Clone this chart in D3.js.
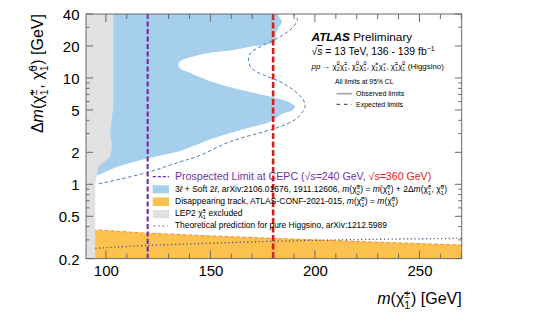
<!DOCTYPE html>
<html><head><meta charset="utf-8">
<script src="https://cdn.jsdelivr.net/npm/d3@7"></script>
<style>
body{margin:0;background:#fff}
svg{display:block}
text{font-family:"Liberation Sans",Arial,Helvetica,sans-serif}
</style>
</head><body>
<svg id="c" width="555" height="312"></svg>
<script>
// ---------------- data ----------------
const xTicks = [100, 150, 200, 250];
const yTicks = [0.2, 0.5, 1, 2, 5, 10, 20, 40];
const cepcLimits = [120, 180];           // prospected CEPC limits [GeV]
// 3l + soft 2l observed exclusion boundary [m(chi1+-), dm]
const softLeptonRegion = [
  [92,60],[180.5,60],[182.6,38],[184.2,33.9],[182.5,29.5],[181.3,26],[181.0,22.8],[179.5,21.3],
  [169.0,19.7],[160.9,18.3],[148.3,17.1],[138.7,15.3],[135.5,14.4],[134.7,13.3],[135.5,12.3],
  [138.7,11.5],[148.3,9.6],[160.9,8.05],[175.2,6.92],[184.9,6.21],[188.6,5.8],[190.5,5.37],
  [189.1,4.95],[184.9,4.65],[178.6,3.88],[167.4,3.36],[151.5,2.71],[135.5,2.06],[120.2,1.76],
  [105,1.45],[95.7,1.22],[92,1.22]
];
// expected limit (dashed)
const expectedLimit = [
  [188.6,46],[189.6,40],[191.6,36.4],[189.7,30.4],[183.4,24.5],[175.4,20.4],[169.0,17.1],[168.2,14.8],
  [169.8,12.3],[175.4,10.7],[183.4,9.23],[189.7,7.71],[194.5,6.21],[195.3,5.37],[194.5,4.95],
  [191.4,4.18],[183.4,3.48],[175.4,3.12],[159.5,2.52],[143.5,1.82],[135.5,1.63],[119.6,1.29],[95.7,1.0]
];
// disappearing track exclusion (upper edge)
const disTrackEdge = [[85,0.375],[95,0.372],[120,0.347],[150,0.327],[180,0.31],[220,0.29],[270,0.268],[276,0.266]];
// LEP2 excluded region boundary
const lep2Edge = [[103.6,60],[103.6,5.2],[102.9,4.32],[102.4,3.5],[102.1,3.02],[102.9,2.43],[102.6,2.1],[102.1,1.82],[98,1.55],[96.5,1.46],[95.7,1.22],[94.9,1.0],[94.9,0.15]];
// theoretical prediction for pure Higgsino
const theoryLine = [[95,0.25],[120,0.266],[150,0.279],[180,0.291],[220,0.302],[270,0.31]];

// ---------------- layout ----------------
const svg = d3.select("#c");
const X0 = 86, X1 = 461.7, Y0 = 14.0, Y1 = 258.6;
const x = d3.scaleLinear().domain([90.5, 270.2]).range([X0, X1]);
const y = d3.scaleLog().domain([0.2, 40]).range([Y1, Y0]);

const C = {blue:"#a5cfec", grey:"#e1e1e1", orange:"#fdc14f", orangeEdge:"#ef9a35",
           exp:"#4d7db3", theory:"#4b5677", purple:"#7332a8", red:"#dc1a1a", frame:"#6a6a6a"};

svg.append("defs").append("clipPath").attr("id","pc")
  .append("rect").attr("x",X0).attr("y",Y0).attr("width",X1-X0).attr("height",Y1-Y0);
const plot = svg.append("g").attr("clip-path","url(#pc)");

const lineLin = d3.line().x(d=>x(d[0])).y(d=>y(d[1]));
const lineSm = d3.line().x(d=>x(d[0])).y(d=>y(d[1])).curve(d3.curveCatmullRom.alpha(0.5));

// blue region
plot.append("path").attr("d", d3.line().x(d=>x(d[0])).y(d=>y(d[1])).curve(d3.curveCatmullRomClosed.alpha(0.5))(softLeptonRegion))
  .attr("fill", C.blue);
// orange region
const orangePoly = disTrackEdge.concat([[276,0.15],[85,0.15]]);
plot.append("path").attr("d", lineLin(orangePoly)+"Z").attr("fill", C.orange);
plot.append("path").attr("d", lineLin(disTrackEdge)).attr("fill","none")
  .attr("stroke", C.orangeEdge).attr("stroke-width",1.1).attr("stroke-dasharray","4,2");
// grey LEP2
const greyPoly = [[80,60]].concat(lep2Edge).concat([[80,0.15]]);
plot.append("path").attr("d", lineLin(greyPoly)+"Z").attr("fill", C.grey);
// expected dashed
plot.append("path").attr("d", lineSm(expectedLimit)).attr("fill","none")
  .attr("stroke", C.exp).attr("stroke-width",1).attr("stroke-dasharray","3.5,2.5");
// theory dotted
plot.append("path").attr("d", lineSm(theoryLine)).attr("fill","none")
  .attr("stroke", C.theory).attr("stroke-width",1.3).attr("stroke-dasharray","1.2,2.6");
// CEPC lines
plot.selectAll("line.cepc").data(cepcLimits).enter().append("line")
  .attr("x1",d=>x(d)).attr("x2",d=>x(d)).attr("y1",Y0).attr("y2",Y1)
  .attr("stroke",(d,i)=>i?C.red:C.purple).attr("stroke-width",(d,i)=>i?2.6:2.2)
  .attr("stroke-dasharray",(d,i)=>i?"6,2.5":"5,2.5");

// ---------------- axes ----------------
const ax = svg.append("g").attr("stroke", C.frame).attr("fill","none");
ax.append("rect").attr("x",X0).attr("y",Y0).attr("width",X1-X0).attr("height",Y1-Y0).attr("stroke-width",1);
const xMinor = d3.range(100, 271, 10);
xMinor.forEach(v=>{
  const L = xTicks.includes(v) ? 8 : 5;
  ax.append("line").attr("x1",x(v)).attr("x2",x(v)).attr("y1",Y1).attr("y2",Y1-L);
  ax.append("line").attr("x1",x(v)).attr("x2",x(v)).attr("y1",Y0).attr("y2",Y0+L);
});
const yMinor = [];
[0.1,1,10].forEach(dec=>{ for(let k=1;k<=9;k++){ const v=+(k*dec).toPrecision(3); if(v>=0.2&&v<=40) yMinor.push(v);} });
yMinor.forEach(v=>{
  const L = yTicks.includes(v) ? 7 : 3.5;
  ax.append("line").attr("x1",X0).attr("x2",X0+L).attr("y1",y(v)).attr("y2",y(v));
  ax.append("line").attr("x1",X1).attr("x2",X1-L).attr("y1",y(v)).attr("y2",y(v));
});
// tick labels via d3 axes (lines hidden)
const gx = svg.append("g").attr("transform",`translate(0,${Y1})`)
  .call(d3.axisBottom(x).tickValues(xTicks).tickSize(0).tickPadding(0).tickFormat(d3.format("d")));
gx.select(".domain").remove();
gx.attr("font-size",15).attr("font-family","Liberation Sans, Arial, sans-serif");
gx.selectAll("text").attr("font-size",15).attr("fill","#000").attr("dy",null).attr("y",17);
const gy = svg.append("g").attr("transform",`translate(${X0},0)`)
  .call(d3.axisLeft(y).tickValues(yTicks).tickSize(0).tickPadding(6.5).tickFormat(d=>String(d)));
gy.select(".domain").remove();
gy.attr("font-size",15).attr("font-family","Liberation Sans, Arial, sans-serif");
gy.selectAll("text").attr("font-size",15).attr("fill","#000").attr("dy","0.36em");

// ---------------- rich text helper ----------------
function rich(g, px, py, size, parts, opts={}) {
  const t = g.append("text").attr("x",px).attr("y",py).attr("font-size",size).attr("fill",opts.fill||"#000");
  if (opts.anchor) t.attr("text-anchor",opts.anchor);
  if (opts.transform) t.attr("transform",opts.transform);
  let cur = 0, pend = 0;
  const small = size*0.66;
  function span(txt, fs, off, dx){
    const s = t.append("tspan").text(txt).attr("font-size",fs).attr("dy",off-cur);
    const d = (dx||0)+pend; pend = 0;
    if (d) s.attr("dx",d);
    cur = off; return s;
  }
  parts.forEach(p=>{
    if (typeof p === "string") span(p,size,0);
    else if (p.chi) {
      span("χ\u0303",size,0);
      const a = span(p.chi[0],small,-size*0.40);
      const la = a.node().getComputedTextLength();
      const b = span(p.chi[1],small,size*0.30,-la);
      const lb = b.node().getComputedTextLength();
      pend = Math.max(0,la-lb) + size*0.05;
    }
    else if (p.it) span(p.it,size,0).attr("font-style","italic");
    else if (p.bi) span(p.bi,size,0).attr("font-style","italic").attr("font-weight","bold");
    else if (p.ol) span(p.ol,size,0).attr("text-decoration","overline").attr("font-style","italic");
    else if (p.sup) span(p.sup,small,-size*0.42);
    else if (p.c) span(p.t,size,0).attr("fill",p.c);
  });
  return t;
}

// axis titles
rich(svg, X1, 304, 16, [{it:"m"},"(",{chi:["±","1"]},") [GeV]"], {anchor:"end"});
rich(svg, 0, 0, 16, ["Δ",{it:"m"},"(",{chi:["±","1"]},", ",{chi:["0","1"]},") [GeV]"],
     {anchor:"end", transform:`translate(43,${Y0}) rotate(-90)`});

// ATLAS labels
rich(svg, 311.5, 40.5, 11.8, [{bi:"ATLAS"}," Preliminary"]);
rich(svg, 311.5, 55, 10.4, ["√",{ol:"s"}," = 13 TeV, 136 - 139 fb",{sup:"−1"}]);
rich(svg, 311.5, 68.5, 7.9, [{it:"pp"}," → ",{chi:["0","2"]},{chi:["±","1"]},", ",{chi:["0","2"]},{chi:["0","1"]},", ",
     {chi:["+","1"]},{chi:["−","1"]},", ",{chi:["±","1"]},{chi:["0","1"]}," (Higgsino)"]);
rich(svg, 335, 84.3, 6.8, ["All limits at 95% CL"]);
svg.append("line").attr("x1",336.5).attr("x2",352).attr("y1",93.7).attr("y2",93.7).attr("stroke","#aaa").attr("stroke-width",1.8);
rich(svg, 356, 96.3, 7, ["Observed limits"]);
svg.append("line").attr("x1",336.5).attr("x2",352).attr("y1",104.3).attr("y2",104.3).attr("stroke","#333").attr("stroke-width",1).attr("stroke-dasharray","3.5,4");
rich(svg, 356, 106.8, 7, ["Expected limits"]);

// legend
const LX = 152.7, LW = 16.3, TX = 175;
svg.append("line").attr("x1",LX).attr("x2",LX+LW).attr("y1",176.7).attr("y2",176.7)
  .attr("stroke",C.purple).attr("stroke-width",1.3).attr("stroke-dasharray","3.2,1.8");
rich(svg, TX, 180.2, 10.6, [{c:C.purple,t:"Prospected Limit at CEPC (√s=240 GeV, "},{c:C.red,t:"√s=360 GeV)"}]);
svg.append("rect").attr("x",LX).attr("y",185.3).attr("width",LW).attr("height",8).attr("fill",C.blue);
rich(svg, TX, 192.2, 8.5, ["3",{it:"ℓ"}," + Soft 2",{it:"ℓ"},", arXiv:2106.01676, 1911.12606, ",{it:"m"},"(",{chi:["0","2"]},") = ",
     {it:"m"},"(",{chi:["0","1"]},") + 2Δ",{it:"m"},"(",{chi:["±","1"]},", ",{chi:["0","1"]},")"]);
svg.append("rect").attr("x",LX).attr("y",197.5).attr("width",LW).attr("height",8.5).attr("fill",C.orange);
rich(svg, TX, 204.3, 8.5, ["Disappearing track, ATLAS-CONF-2021-015, ",{it:"m"},"(",{chi:["0","2"]},") = ",{it:"m"},"(",{chi:["0","1"]},")"]);
svg.append("rect").attr("x",LX).attr("y",210).attr("width",LW).attr("height",8.3).attr("fill",C.grey);
rich(svg, TX, 216.4, 8.5, ["LEP2 ",{chi:["±","1"]}," excluded"]);
svg.append("line").attr("x1",LX+1).attr("x2",LX+LW-1).attr("y1",225.8).attr("y2",225.8)
  .attr("stroke",C.theory).attr("stroke-width",1.3).attr("stroke-dasharray","1.2,3.4");
rich(svg, TX, 228.4, 8.4, ["Theoretical prediction for pure Higgsino, arXiv:1212.5989"]);
</script>
</body></html>
